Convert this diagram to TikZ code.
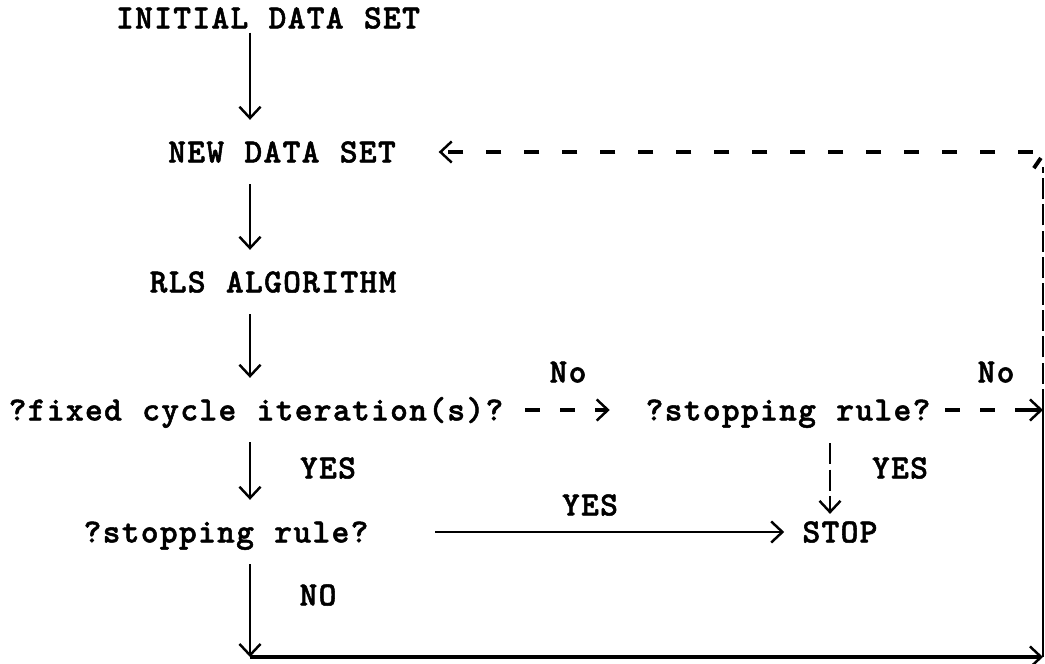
\documentclass[tikz,border=0pt]{standalone}
\usepackage{fontspec}
\usetikzlibrary{arrows.meta}
\newfontfamily\typefont{lmmonolt10-bold.otf}[LetterSpace=4,WordSpace=1.07,FakeBold=1.5]

\begin{document}
\begin{tikzpicture}[x=0.01cm,y=-0.01cm,
		>={Straight Barb[length=3.2pt,width=6pt,line width=0.7pt]},
		txt/.style={font=\typefont\fontsize{9.6pt}{11pt}\selectfont, inner sep=0pt,
			text height=5.9pt, text depth=0pt},
		link/.style={->, line width=0.6pt},
		typed/.style={->, line width=1.1pt,
			dash pattern=on 4.3pt off 5.7pt on 4.3pt off 5.7pt on 20pt off 0.01pt},
		ruled/.style={line width=0.6pt, dash pattern=on 6pt off 1.5pt}]
	\useasboundingbox (0,0) rectangle (1045,664);

	% Linies de text
	\node[txt] (init) at (268,18) {INITIAL DATA SET};
	\node[txt] (new) at (282,152) {NEW DATA SET};
	\node[txt] (rls) at (273,282) {RLS ALGORITHM};
	\node[txt] (fixed) at (256,410) {?fixed cycle iteration(s)?};
	\node[txt] (rule) at (788,410) {?stopping rule?};
	\node[txt] (check) at (226,532) {?stopping rule?};
	\node[txt] (stop) at (840,532) {STOP};

	% Columnes i cantonades
	\coordinate (spine) at (250,0);
	\coordinate (drop) at (830,0);
	\coordinate (lb) at (250,657);
	\coordinate (rb) at (1043,657);
	\coordinate (rf) at (1043,410);
	\coordinate (rt) at (1043,152);

	% Columna principal
	\draw[link, shorten <=1pt, shorten >=6pt] (init.south -| spine) -- (new.north -| spine);
	\foreach \a/\b in {new/rls, rls/fixed, fixed/check} {
		\draw[link, shorten <=6pt, shorten >=6pt] (\a.south -| spine) -- (\b.north -| spine);
	}
	\draw[link, shorten <=6pt] (check.south -| spine) -- (lb);
	\draw[link, line width=0.9pt] (lb) -- (rb);

	% Tornada a NEW DATA SET
	\draw[line width=0.6pt] (rb) -- (rf);
	\draw[ruled] (rf) -- ([yshift=-4.3pt]rt);
	\draw[line width=1.1pt] ([xshift=-2.6pt,yshift=-4.6pt]rt) -- ([xshift=-0.6pt,yshift=-1.7pt]rt);
	\draw[typed, dash pattern=on 4.3pt off 6.5pt, shorten <=2.8pt, shorten >=12pt] (rt) -- (new.east);

	% Preguntes
	\draw[typed, shorten <=6pt, shorten >=10pt] (fixed.east) -- (rule.west);
	\draw[typed, shorten <=4pt] (rule.east) -- (rf);
	\draw[link, ruled, shorten <=6.3pt, shorten >=2pt] (rule.south -| drop) -- (stop.north -| drop);
	\draw[link, shorten <=18.8pt, shorten >=5pt] (check.east) -- (stop.west);

	% Etiquetes
	\node[txt] (yesA) at (328,468) {YES};
	\node[txt] (yesB) at (590,505) {YES};
	\node[txt] (yesC) at (900,468) {YES};
	\node[txt] (noA) at (318,595) {NO};
	\node[txt] (noB) at (568,372) {No};
	\node[txt] (noC) at (996,372) {No};
\end{tikzpicture}
\end{document}
